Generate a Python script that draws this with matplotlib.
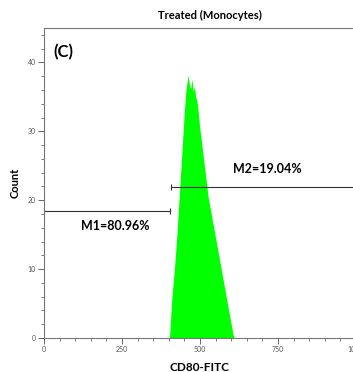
import numpy as np
import matplotlib
matplotlib.use("Agg")
import matplotlib.pyplot as plt

# histogram data (CD80-FITC channel, bin centres every 4)
bin_start = 402
bin_width = 4
counts = [0, 3, 6, 8, 10, 12.5, 15, 18, 21, 24, 27, 30, 33, 35.5, 37, 38.2, 36.8,
          36.2, 37.6, 35.8, 36.5, 35, 34.5, 33, 31, 29.5, 28, 26.5, 25, 23.5,
          22, 20.5, 19.5, 18.5, 17.5, 16.5, 15.5, 14.5, 13.5, 12.5, 11.5, 10.5,
          9.5, 8.5, 7.5, 6.5, 5.5, 4.5, 3.5, 2.5, 1.5, 0.5, 0]
channels = bin_start + bin_width * np.arange(len(counts))

# gates
m1_range = [0, 404]
m1_y = 18.5
m1_label = "M1=80.96%"
m2_range = [407, 1010]
m2_y = 21.9
m2_label = "M2=19.04%"

plt.rcParams['font.family'] = ['Lato', 'DejaVu Sans']

fig = plt.figure(figsize=(3.53, 3.72), dpi=100)
ax = fig.add_axes([44/353, 34/372, 312/353, 310/372])

ax.fill_between(channels, counts, 0, color="#00ff00", linewidth=0)

# gate lines with end caps
ax.plot(m1_range, [m1_y, m1_y], color="#333333", lw=0.8)
ax.plot(m1_range, [m1_y, m1_y], color="#333333", lw=0, marker="|", ms=4, mew=0.8)
ax.plot(m2_range, [m2_y, m2_y], color="#333333", lw=0.8, clip_on=False)
ax.plot([m2_range[0]], [m2_y], color="#333333", lw=0, marker="|", ms=4, mew=0.8)
ax.text(228, 16.3, m1_label, fontsize=9, fontweight="bold", ha="center", va="center")
ax.text(715, 24.5, m2_label, fontsize=9, fontweight="bold", ha="center", va="center")

ax.text(0.03, 0.95, "(C)", transform=ax.transAxes, fontsize=12, fontweight="bold",
        ha="left", va="top")

ax.set_xlim(0, 1000)
ax.set_ylim(0, 45)
ax.set_xticks([0, 250, 500, 750, 1000])
ax.set_xticks(np.arange(0, 1001, 50), minor=True)
ax.set_yticks([0, 10, 20, 30, 40])
ax.set_yticks(np.arange(0, 45, 2), minor=True)
ax.tick_params(which="major", length=4, width=0.7, color="#666666",
               labelsize=5, labelcolor="#555555", pad=2)
ax.tick_params(which="minor", length=2.5, width=0.6, color="#666666")
for s in ["left", "bottom", "top", "right"]:
    ax.spines[s].set_color("#777777")
    ax.spines[s].set_linewidth(0.8)

ax.set_xlabel("CD80-FITC", fontsize=8.5, fontweight="bold", labelpad=6)
ax.set_ylabel("Count", fontsize=8, fontweight="bold", labelpad=5)
fig.text(210/353, 1 - 15/372, "Treated (Monocytes)", fontsize=8, fontweight="bold",
         ha="center", va="center")

fig.savefig("out.png", dpi=100)
